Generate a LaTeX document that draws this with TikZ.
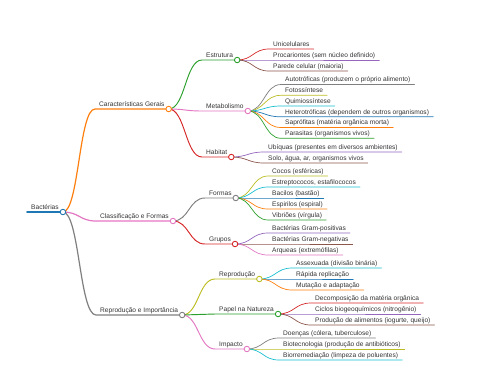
\documentclass[tikz,border=0pt]{standalone}
\usepackage{fontspec}
\setmainfont{Liberation Sans}
\usetikzlibrary{calc}

\definecolor{mblue}{HTML}{1F77B4}
\definecolor{morange}{HTML}{FF7F0E}
\definecolor{mgreen}{HTML}{2CA02C}
\definecolor{mred}{HTML}{D62728}
\definecolor{mpurple}{HTML}{9467BD}
\definecolor{mbrown}{HTML}{8C564B}
\definecolor{mpink}{HTML}{E377C2}
\definecolor{mgray}{HTML}{7F7F7F}
\definecolor{molive}{HTML}{BCBD22}
\definecolor{mcyan}{HTML}{17BECF}
\definecolor{mtext}{HTML}{333333}

\tikzset{
  topic/.style={anchor=south west, inner xsep=4pt, inner ysep=1.5pt, text height=4.8pt, text depth=1pt,
    font=\fontsize{6.6}{8}\selectfont, text=mtext},
  dot/.style={circle, draw=#1, fill=white, inner sep=0pt, minimum size=5.5pt, line width=0.9pt},
  link/.style={to path={let \p1=(\tikztostart), \p2=(\tikztotarget) in
    .. controls ({(\x1+\x2)/2},\y1) and ({(\x1+\x2)/2},\y2) .. (\tikztotarget)}},
  lv0/.style={line width=1.6pt},
  lv1/.style={line width=1.2pt},
  lv2/.style={line width=0.95pt},
  lv3/.style={line width=0.7pt},
}

\begin{document}
\begin{tikzpicture}[x=1pt, y=-1pt, line cap=round]
    \useasboundingbox (0,0) rectangle (480,384);

    % root and main branches
    \node[topic] (bact) at (27,212) {Bactérias};
    \node[topic] (cg) at (95,109) {Características Gerais};
    \node[topic] (cf) at (96,221) {Classificação e Formas};
    \node[topic] (ri) at (96,315) {Reprodução e Importância};

    % second level
    \node[topic] (estr) at (202,60) {Estrutura};
    \node[topic] (meta) at (202,111) {Metabolismo};
    \node[topic] (hab) at (202,157) {Habitat};
    \node[topic] (formas) at (205,198) {Formas};
    \node[topic] (grupos) at (205,244) {Grupos};
    \node[topic] (repr) at (215,279) {Reprodução};
    \node[topic] (papel) at (215,314) {Papel na Natureza};
    \node[topic] (imp) at (215,349) {Impacto};

    % leaves
    \node[topic] (uni) at (269,49) {Unicelulares};
    \node[topic] (proc) at (269,60) {Procariontes (sem núcleo definido)};
    \node[topic] (par) at (269,71) {Parede celular (maioria)};
    \node[topic] (auto) at (281,84.5) {Autotróficas (produzem o próprio alimento)};
    \node[topic] (foto) at (281,95.3) {Fotossíntese};
    \node[topic] (quim) at (281,106) {Quimiossíntese};
    \node[topic] (het) at (281,116.8) {Heterotróficas (dependem de outros organismos)};
    \node[topic] (sap) at (281,127.5) {Saprófitas (matéria orgânica morta)};
    \node[topic] (paras) at (281,138.3) {Parasitas (organismos vivos)};
    \node[topic] (ubiq) at (264,152) {Ubíquas (presentes em diversos ambientes)};
    \node[topic] (solo) at (264,163) {Solo, água, ar, organismos vivos};
    \node[topic] (cocos) at (268,176) {Cocos (esféricas)};
    \node[topic] (strep) at (268,187) {Estreptococos, estafilococos};
    \node[topic] (bac) at (268,198) {Bacilos (bastão)};
    \node[topic] (esp) at (268,209) {Espirilos (espiral)};
    \node[topic] (vib) at (268,220) {Vibriões (vírgula)};
    \node[topic] (gpos) at (268,233) {Bactérias Gram-positivas};
    \node[topic] (gneg) at (268,244) {Bactérias Gram-negativas};
    \node[topic] (arq) at (268,255) {Arqueas (extremófilas)};
    \node[topic] (assex) at (292,268) {Assexuada (divisão binária)};
    \node[topic] (rapida) at (292,279) {Rápida replicação};
    \node[topic] (mut) at (292,290) {Mutação e adaptação};
    \node[topic] (decomp) at (311,303) {Decomposição da matéria orgânica};
    \node[topic] (ciclos) at (311,314) {Ciclos biogeoquímicos (nitrogênio)};
    \node[topic] (prod) at (311,325) {Produção de alimentos (iogurte, queijo)};
    \node[topic] (doen) at (279,338) {Doenças (cólera, tuberculose)};
    \node[topic] (biotec) at (279,349) {Biotecnologia (produção de antibióticos)};
    \node[topic] (biorr) at (279,360) {Biorremediação (limpeza de poluentes)};

    % links with underlines
    \draw[mblue, lv0] (bact.south west) -- (bact.south east);
    \draw[link, morange, lv1] (bact.south east) to (cg.south west) -- (cg.south east);
    \draw[link, mpink, lv1] (bact.south east) to (cf.south west) -- (cf.south east);
    \draw[link, mgray, lv1] (bact.south east) to (ri.south west) -- (ri.south east);

    \draw[link, mgreen, lv2] (cg.south east) to (estr.south west) -- (estr.south east);
    \draw[link, mpink, lv2] (cg.south east) to (meta.south west) -- (meta.south east);
    \draw[link, mred, lv2] (cg.south east) to (hab.south west) -- (hab.south east);
    \draw[link, mgray, lv2] (cf.south east) to (formas.south west) -- (formas.south east);
    \draw[link, mred, lv2] (cf.south east) to (grupos.south west) -- (grupos.south east);
    \draw[link, molive, lv2] (ri.south east) to (repr.south west) -- (repr.south east);
    \draw[link, mgreen, lv2] (ri.south east) to (papel.south west) -- (papel.south east);
    \draw[link, mpink, lv2] (ri.south east) to (imp.south west) -- (imp.south east);

    \draw[link, mred, lv3] (estr.south east) to (uni.south west) -- (uni.south east);
    \draw[link, mpurple, lv3] (estr.south east) to (proc.south west) -- (proc.south east);
    \draw[link, mbrown, lv3] (estr.south east) to (par.south west) -- (par.south east);
    \draw[link, mgray, lv3] (meta.south east) to (auto.south west) -- (auto.south east);
    \draw[link, molive, lv3] (meta.south east) to (foto.south west) -- (foto.south east);
    \draw[link, mcyan, lv3] (meta.south east) to (quim.south west) -- (quim.south east);
    \draw[link, mblue, lv3] (meta.south east) to (het.south west) -- (het.south east);
    \draw[link, morange, lv3] (meta.south east) to (sap.south west) -- (sap.south east);
    \draw[link, mgreen, lv3] (meta.south east) to (paras.south west) -- (paras.south east);
    \draw[link, mpurple, lv3] (hab.south east) to (ubiq.south west) -- (ubiq.south east);
    \draw[link, mbrown, lv3] (hab.south east) to (solo.south west) -- (solo.south east);
    \draw[link, molive, lv3] (formas.south east) to (cocos.south west) -- (cocos.south east);
    \draw[link, mcyan, lv3] (formas.south east) to (strep.south west) -- (strep.south east);
    \draw[link, mblue, lv3] (formas.south east) to (bac.south west) -- (bac.south east);
    \draw[link, morange, lv3] (formas.south east) to (esp.south west) -- (esp.south east);
    \draw[link, mgreen, lv3] (formas.south east) to (vib.south west) -- (vib.south east);
    \draw[link, mpurple, lv3] (grupos.south east) to (gpos.south west) -- (gpos.south east);
    \draw[link, mbrown, lv3] (grupos.south east) to (gneg.south west) -- (gneg.south east);
    \draw[link, mpink, lv3] (grupos.south east) to (arq.south west) -- (arq.south east);
    \draw[link, mcyan, lv3] (repr.south east) to (assex.south west) -- (assex.south east);
    \draw[link, mblue, lv3] (repr.south east) to (rapida.south west) -- (rapida.south east);
    \draw[link, morange, lv3] (repr.south east) to (mut.south west) -- (mut.south east);
    \draw[link, mred, lv3] (papel.south east) to (decomp.south west) -- (decomp.south east);
    \draw[link, mpurple, lv3] (papel.south east) to (ciclos.south west) -- (ciclos.south east);
    \draw[link, mbrown, lv3] (papel.south east) to (prod.south west) -- (prod.south east);
    \draw[link, mgray, lv3] (imp.south east) to (doen.south west) -- (doen.south east);
    \draw[link, molive, lv3] (imp.south east) to (biotec.south west) -- (biotec.south east);
    \draw[link, mcyan, lv3] (imp.south east) to (biorr.south west) -- (biorr.south east);

    % circles
    \node[dot=mblue] (bactdot) at (bact.south east) {};
    \node[dot=morange] (cgdot) at (cg.south east) {};
    \node[dot=mpink] (cfdot) at (cf.south east) {};
    \node[dot=mgray] (ridot) at (ri.south east) {};
    \node[dot=mgreen] (estrdot) at (estr.south east) {};
    \node[dot=mpink] (metadot) at (meta.south east) {};
    \node[dot=mred] (habdot) at (hab.south east) {};
    \node[dot=mgray] (formasdot) at (formas.south east) {};
    \node[dot=mred] (gruposdot) at (grupos.south east) {};
    \node[dot=molive] (reprdot) at (repr.south east) {};
    \node[dot=mgreen] (papeldot) at (papel.south east) {};
    \node[dot=mpink] (impdot) at (imp.south east) {};
\end{tikzpicture}
\end{document}
